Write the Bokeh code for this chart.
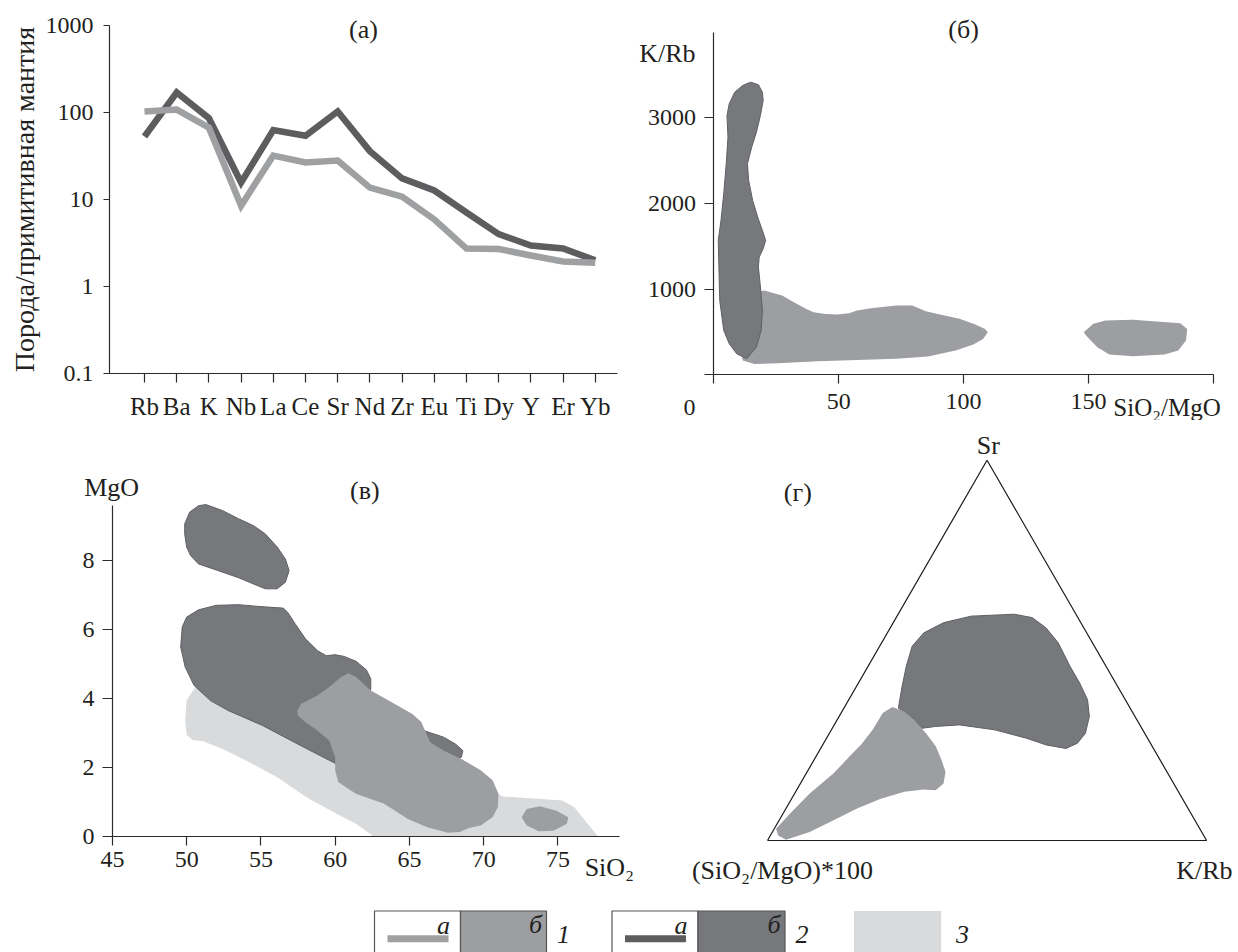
import math

from bokeh.plotting import figure
from bokeh.layouts import column, row
from bokeh.models import (Range1d, FixedTicker, Label, LinearAxis, LogAxis,
                          LogScale)
from bokeh.embed import file_html
from bokeh.resources import INLINE

FONT = "Liberation Serif"
TEXT = "#231f20"
AXIS = "#2b2b2b"
DARK_LINE = "#5d5d5f"
LIGHT_LINE = "#9fa0a2"
DARK_FILL = "#77787c"
DARK_EDGE = "#5f6064"
MID_FILL = "#9d9ea2"
PALE_FILL = "#d9dadc"

# ---- (а) primitive-mantle normalised spidergram ----
elements = ["Rb", "Ba", "K", "Nb", "La", "Ce", "Sr", "Nd", "Zr", "Eu",
            "Ti", "Dy", "Y", "Er", "Yb"]
spider_group1 = [103, 108, 67, 8.5, 32, 26.6, 28, 13.7, 10.8, 5.9,
                 2.73, 2.7, 2.27, 1.94, 1.88]
spider_group2 = [53, 170, 86, 15.7, 63, 54, 103, 36, 17.5, 12.7,
                 7.1, 4.0, 2.96, 2.73, 2.0]
spider_ticks = [0.1, 1, 10, 100, 1000]

# ---- (б) K/Rb vs SiO2/MgO fields ----
krb_group2_x = [14.7, 17.8, 19.4, 19.7, 18.6, 17.0, 15.1, 13.4, 13.9, 15.5,
                17.5, 19.4, 20.7, 19.7, 18.1, 17.8, 18.6, 19.4, 18.9, 17.0,
                13.1, 9.1, 6.1, 3.9, 2.3, 1.7, 2.8, 3.9, 4.9, 5.6, 5.2, 6.1,
                8.3, 11.5]
krb_group2_y = [3416, 3386, 3299, 3202, 3027, 2832, 2657, 2463, 2268, 2035,
                1841, 1685, 1569, 1472, 1374, 1258, 1025, 752, 519, 325,
                189, 247, 364, 519, 869, 1569, 1802, 2113, 2463, 2774, 3027,
                3164, 3299, 3378]
krb_group1_x = [20.2, 22.6, 27.3, 32.0, 36.8, 39.9, 44.7, 49.4, 54.1, 57.3,
                63.6, 73.1, 79.4, 84.9, 90.5, 98.4, 104.7, 108.6, 109.7, 107.8,
                103.9, 96.8, 85.7, 73.1, 57.3, 41.5, 25.7, 16.2, 11.5, 10.0,
                12.0, 16.0]
krb_group1_y = [985, 965, 926, 848, 771, 732, 712, 704, 720, 751,
                782, 809, 809, 743, 704, 654, 588, 537, 498, 420,
                354, 284, 214, 187, 175, 160, 136, 128, 167, 400,
                800, 960]
krb_group1b_x = [148.1, 152.0, 156.8, 167.8, 186.8, 189.6, 189.1, 186.0,
                 180.5, 167.8, 158.4, 153.6, 149.7]
krb_group1b_y = [498, 596, 635, 643, 604, 537, 401, 284, 238, 218, 238,
                 323, 440]

# ---- (в) MgO vs SiO2 fields ----
mg_field3_x = [50.7, 50.0, 49.9, 50.0, 50.4, 51.1, 52.4, 54.0, 56.1, 58.2,
               60.1, 61.4, 62.6, 77.7, 77.1, 76.1, 75.3, 73.9, 71.3, 69.5,
               66.0, 62.0, 58.5, 55.0, 52.5]
mg_field3_y = [4.4, 3.95, 3.35, 2.95, 2.8, 2.76, 2.54, 2.2, 1.72, 1.1,
               0.66, 0.37, 0.0, 0.0, 0.32, 0.85, 1.04, 1.09, 1.16, 1.6,
               2.1, 2.6, 3.0, 3.6, 4.0]
mg_group2a_x = [50.8, 51.3, 52.4, 53.5, 54.5, 55.3, 56.1, 56.65, 56.9, 56.65,
                56.1, 55.3, 54.5, 53.5, 52.1, 50.8, 50.27, 50.0, 49.87, 49.87,
                50.2]
mg_group2a_y = [9.59, 9.62, 9.45, 9.21, 9.01, 8.77, 8.39, 8.04, 7.71, 7.37,
                7.18, 7.18, 7.32, 7.50, 7.71, 7.90, 8.14, 8.39, 8.77, 9.06,
                9.40]
mg_group2b_x = [49.7, 50.0, 50.8, 52.0, 53.5, 54.8, 56.5, 56.8, 57.3, 58.0,
                58.8, 59.4, 60.0, 60.6, 61.4, 62.1, 62.4, 62.4, 62.1, 64.1,
                66.1, 67.3, 68.1, 68.6, 68.5, 68.1, 66.0, 63.0, 60.1, 57.7,
                55.1, 52.8, 51.6, 50.5, 49.9, 49.6]
mg_group2b_y = [6.07, 6.36, 6.57, 6.70, 6.72, 6.67, 6.62, 6.50, 6.17, 5.73,
                5.39, 5.24, 5.27, 5.22, 5.08, 4.83, 4.57, 4.28, 3.94, 3.46,
                3.05, 2.88, 2.68, 2.49, 2.30, 2.20, 2.30, 2.20, 2.10, 2.63,
                3.22, 3.65, 3.94, 4.38, 4.91, 5.49]
mg_group1_x = [57.45, 57.7, 58.8, 59.6, 60.4, 60.9, 61.4, 62.4, 63.6, 65.2,
               65.8, 66.1, 66.4, 67.3, 68.5, 69.8, 70.6, 71.0, 70.96, 70.6,
               69.8, 69.0, 68.4, 67.6, 66.2, 64.9, 63.3, 61.4, 60.2, 60.0,
               60.0, 59.6, 58.8, 57.98, 57.5]
mg_group1_y = [3.65, 3.84, 4.09, 4.33, 4.62, 4.73, 4.62, 4.23, 3.94, 3.55,
               3.32, 3.02, 2.73, 2.49, 2.25, 1.92, 1.63, 1.24, 0.85, 0.56,
               0.32, 0.25, 0.13, 0.11, 0.27, 0.51, 0.95, 1.24, 1.58, 1.92,
               2.30, 2.78, 3.07, 3.32, 3.51]
mg_group1b_x = [72.56, 72.9, 73.8, 74.9, 75.7, 75.6, 74.7, 73.7, 72.9]
mg_group1b_y = [0.56, 0.80, 0.88, 0.75, 0.56, 0.37, 0.17, 0.15, 0.32]

# ---- (г) ternary Sr – K/Rb – (SiO2/MgO)*100, percent ----
tern_group2_sr = [34.8, 40.5, 45.8, 51.1, 54.6, 57.3, 59.0, 59.5, 58.6, 55.9,
                  52.0, 45.8, 41.4, 37.0, 32.6, 28.2, 25.6, 24.2, 25.1, 26.9,
                  29.1, 30.4, 30.0, 29.5, 31.7, 33.9]
tern_group2_krb = [12.4, 10.4, 8.7, 7.4, 8.3, 11.5, 16.9, 26.5, 31.0, 35.5,
                   40.2, 46.0, 50.4, 54.4, 57.0, 58.3, 57.8, 55.9, 51.0, 45.5,
                   37.2, 28.5, 23.3, 20.4, 17.6, 14.2]
tern_group2_sim = [52.8, 49.1, 45.5, 41.5, 37.1, 31.2, 24.1, 14.0, 10.4, 8.6,
                   7.8, 8.2, 8.2, 8.6, 10.4, 13.5, 16.6, 19.9, 23.9, 27.6,
                   33.7, 41.1, 46.7, 50.1, 50.7, 51.9]
tern_group1_sr = [35.1, 33.9, 31.7, 28.2, 24.7, 21.1, 18.1, 15.0, 13.2, 13.4,
                  12.8, 11.0, 8.4, 5.3, 2.2, 0.2, 1.3, 3.1, 7.0, 12.3,
                  17.6, 22.0, 25.1, 29.1, 33.5]
tern_group1_krb = [10.9, 14.2, 17.6, 22.0, 26.0, 29.1, 31.5, 32.6, 31.7, 28.9,
                   24.8, 20.3, 16.2, 12.4, 8.5, 4.1, 1.8, 0.4, 1.6, 3.4,
                   6.2, 7.6, 8.7, 9.4, 9.5]
tern_group1_sim = [54.0, 51.9, 50.7, 49.8, 49.3, 49.8, 50.4, 52.4, 55.1, 57.7,
                   62.4, 68.7, 75.4, 82.3, 89.3, 95.7, 96.9, 96.5, 91.4, 84.3,
                   76.2, 70.4, 66.2, 61.5, 57.0]


def make_panel(width, height, x_range, y_range):
    # the frame fills the whole canvas; axes are pinned inside it
    p = figure(width=width, height=height, x_range=x_range, y_range=y_range,
               min_border=0, x_axis_location=None, y_axis_location=None,
               output_backend="svg", toolbar_location=None)
    p.xgrid.visible = False
    p.ygrid.visible = False
    p.outline_line_color = None
    p.background_fill_color = "white"
    p.border_fill_color = "white"
    return p


def add_axis(p, cls, side, loc, bounds, ticks, overrides, tick_out, standoff,
             size="24px"):
    ax = cls(fixed_location=loc, bounds=bounds,
             ticker=FixedTicker(ticks=ticks),
             major_label_overrides=overrides)
    ax.axis_line_color = AXIS
    ax.axis_line_width = 1.2
    ax.major_tick_line_color = AXIS
    ax.major_tick_line_width = 1.2
    ax.major_tick_out = tick_out
    ax.major_tick_in = 0
    ax.minor_tick_line_color = None
    ax.major_label_text_font = FONT
    ax.major_label_text_font_size = size
    ax.major_label_text_color = TEXT
    ax.major_label_standoff = standoff
    p.add_layout(ax, side)
    return ax


def add_label(p, x, y, text, align="center", size="26px", style="normal",
              angle=0.0):
    p.add_layout(Label(x=x, y=y, text=text, text_align=align,
                       text_baseline="middle", text_font=FONT,
                       text_font_size=size, text_font_style=style,
                       text_color=TEXT, angle=angle))


# ---------- panel (а) ----------
idx = list(range(len(elements)))
p_a = make_panel(620, 420, Range1d(-4.472, 14.783), Range1d(0.02883, 1939.0))
p_a.y_scale = LogScale()
add_axis(p_a, LinearAxis, "below", 0.1, (-1.087, 14.69), idx,
         {i: el for i, el in enumerate(elements)}, 9, 10, size="25px")
add_axis(p_a, LogAxis, "left", -1.087, (0.1, 1000), spider_ticks,
         {0.1: "0.1", 1: "1", 10: "10", 100: "100", 1000: "1000"}, 6, 10)
p_a.line(idx, spider_group2, line_width=6.5, line_color=DARK_LINE,
         line_join="miter")
p_a.line(idx, spider_group1, line_width=6.5, line_color=LIGHT_LINE,
         line_join="miter")
add_label(p_a, 6.8, 900, "(а)")
add_label(p_a, -3.73, 10, "Порода/примитивная мантия", size="28px",
          angle=math.pi / 2)

# ---------- panel (б) ----------
p_b = make_panel(618, 420, Range1d(-37.46, 210.14), Range1d(-532.1, 4368.7))
add_axis(p_b, LinearAxis, "below", 0, (0, 200), [0, 50, 100, 150, 200],
         {0: "", 200: ""}, 9, 10)
add_axis(p_b, LinearAxis, "left", 0, (0, 3991), [0, 1000, 2000, 3000],
         {0: ""}, 9, 9)
p_b.patch(krb_group1_x, krb_group1_y, fill_color=MID_FILL, line_color=None)
p_b.patch(krb_group1b_x, krb_group1b_y, fill_color=MID_FILL, line_color=None)
p_b.patch(krb_group2_x, krb_group2_y, fill_color=DARK_FILL,
          line_color=DARK_EDGE, line_width=1)
add_label(p_b, 100, 4030, "(б)")
add_label(p_b, -7.4, 3750, "K/Rb", align="right")
add_label(p_b, -9.8, -385, "0", size="24px")
add_label(p_b, 160.0, -385, "SiO₂/MgO", align="left", size="25px")

# ---------- panel (в) ----------
p_c = make_panel(660, 470, Range1d(37.465, 81.909), Range1d(-1.5652, 12.058))
add_axis(p_c, LinearAxis, "below", 0, (45, 79.15),
         [45, 50, 55, 60, 65, 70, 75], {}, 9, 6)
add_axis(p_c, LinearAxis, "left", 45, (0, 9.59), [0, 2, 4, 6, 8], {}, 10, 8)
p_c.patch(mg_field3_x, mg_field3_y, fill_color=PALE_FILL, line_color=None)
p_c.patch(mg_group2a_x, mg_group2a_y, fill_color=DARK_FILL,
          line_color=DARK_EDGE, line_width=1)
p_c.patch(mg_group2b_x, mg_group2b_y, fill_color=DARK_FILL,
          line_color=DARK_EDGE, line_width=1)
p_c.patch(mg_group1_x, mg_group1_y, fill_color=MID_FILL, line_color=None)
p_c.patch(mg_group1b_x, mg_group1b_y, fill_color=MID_FILL, line_color=None)
add_label(p_c, 62.0, 10.03, "(в)")
add_label(p_c, 44.95, 10.12, "MgO")
add_label(p_c, 76.8, -0.9, "SiO₂", align="left")

# ---------- panel (г) ----------
H = math.sqrt(3) / 2


def to_xy(sr, krb, sim):
    xs, ys = [], []
    for a, b, c in zip(sr, krb, sim):
        s = a + b + c
        xs.append(b / s + 0.5 * a / s)
        ys.append(H * a / s)
    return xs, ys


p_d = make_panel(578, 470, Range1d(-0.2437, 1.0727), Range1d(-0.1139, 0.9565))
g2x, g2y = to_xy(tern_group2_sr, tern_group2_krb, tern_group2_sim)
g1x, g1y = to_xy(tern_group1_sr, tern_group1_krb, tern_group1_sim)
p_d.patch(g2x, g2y, fill_color=DARK_FILL, line_color=DARK_EDGE, line_width=1)
p_d.patch(g1x, g1y, fill_color=MID_FILL, line_color=None)
tri_x, tri_y = to_xy([0, 0, 100, 0], [0, 100, 0, 0], [100, 0, 0, 100])
p_d.line(tri_x, tri_y, line_color="#1a1a1a", line_width=1.2)
add_label(p_d, 0.503, 0.90, "Sr")
add_label(p_d, 0.069, 0.793, "(г)")
add_label(p_d, 0.034, -0.068, "(SiO₂/MgO)*100")
add_label(p_d, 0.995, -0.068, "K/Rb")

# ---------- legend strip ----------
p_l = make_panel(1238, 62, Range1d(0, 1238), Range1d(0, 62))
top, bot = 41.5, -4
for left, mid, right, fill, line_col, num in [
        (374, 460, 546, MID_FILL, LIGHT_LINE, "1"),
        (611.5, 697.5, 784.5, DARK_FILL, DARK_LINE, "2")]:
    p_l.quad(left=[left], right=[mid], top=[top], bottom=[bot],
             fill_color="white", line_color="#555555", line_width=1.2)
    p_l.quad(left=[mid], right=[right], top=[top], bottom=[bot],
             fill_color=fill, line_color="#555555", line_width=1.2)
    p_l.line([left + 13, left + 74], [13.7, 13.7], line_color=line_col,
             line_width=7)
    add_label(p_l, mid - 17, 27, "а", style="italic")
    add_label(p_l, right - 11, 28, "б", style="italic")
    add_label(p_l, right + 17, 18, num, style="italic")
p_l.quad(left=[853.5], right=[940.7], top=[top], bottom=[bot],
         fill_color=PALE_FILL, line_color=None)
add_label(p_l, 962, 18, "3", style="italic")

layout = column(row(p_a, p_b), row(p_c, p_d), p_l)

with open("out.html", "w") as f:
    f.write(file_html(layout, INLINE))
